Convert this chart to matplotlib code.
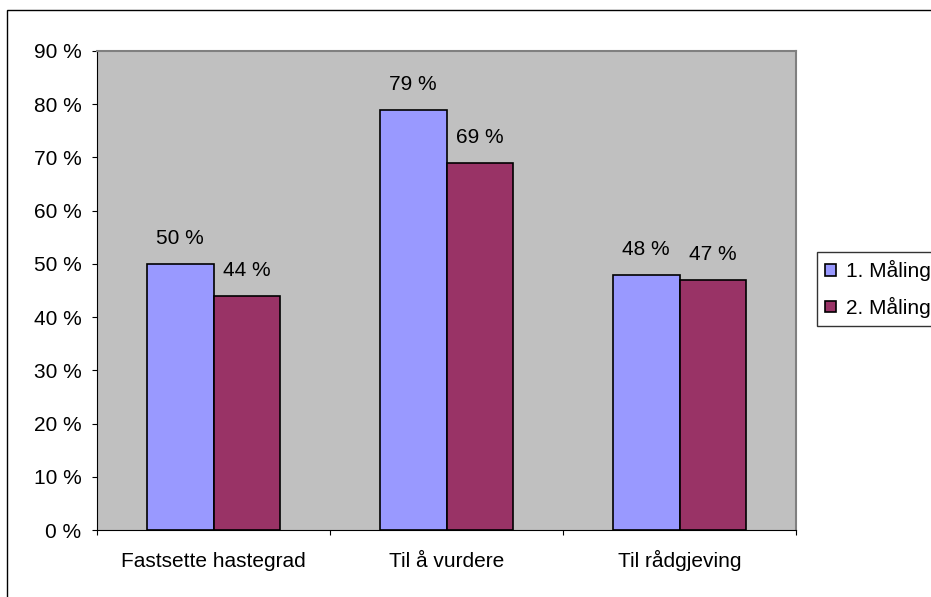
import matplotlib.pyplot as plt
from matplotlib.patches import Rectangle

plt.rcParams['font.family'] = ['Liberation Sans', 'DejaVu Sans']

kategorier = ['Fastsette hastegrad', 'Til å vurdere', 'Til rådgjeving']
maaling1 = [50, 79, 48]
maaling2 = [44, 69, 47]
serier = ['1. Måling', '2. Måling']

fs = 15

fig = plt.figure(figsize=(9.31, 5.97), dpi=100)
fig.patches.append(Rectangle((7 / 931, -0.2), 2, (587 / 597) + 0.2,
                             transform=fig.transFigure, fill=False,
                             edgecolor='black', linewidth=1))

ax = fig.add_axes([97 / 931, 67 / 597, 699 / 931, 479 / 597])
ax.set_facecolor('#c0c0c0')

w = 1 / 3.5
x = range(len(kategorier))
b1 = ax.bar([i - w / 2 for i in x], maaling1, w, color='#9999ff',
            edgecolor='black', linewidth=1.2, label=serier[0])
b2 = ax.bar([i + w / 2 for i in x], maaling2, w, color='#993366',
            edgecolor='black', linewidth=1.2, label=serier[1])

# verdiane over kvar stolpe
for bars, vals in ((b1, maaling1), (b2, maaling2)):
    for b, v in zip(bars, vals):
        ax.annotate(f'{v} %', (b.get_x() + b.get_width() / 2, v),
                    xytext=(0, 14.4), textcoords='offset points',
                    ha='center', va='baseline', fontsize=fs)

ax.set_xlim(-0.5, 2.5)
ax.set_ylim(0, 90)
ax.set_yticks(range(0, 91, 10))
ax.set_yticklabels([f'{v} %' for v in range(0, 91, 10)], fontsize=fs)
ax.set_xticks([-0.5, 0.5, 1.5, 2.5])
ax.set_xticklabels([])
ax.tick_params(axis='x', length=3.6, direction='out')
ax.tick_params(axis='y', length=3.6, direction='out', pad=7.5)

# kategorinamn under aksen, på felles grunnlinje
for i, k in zip(x, kategorier):
    ax.annotate(k, (i, 0), xycoords=('data', 'axes fraction'),
                xytext=(0, -26.6), textcoords='offset points',
                ha='center', va='baseline', fontsize=fs)

for s in ('top', 'right'):
    ax.spines[s].set_color('#808080')
    ax.spines[s].set_linewidth(1.5)
for s in ('left', 'bottom'):
    ax.spines[s].set_color('black')

leg = fig.legend(loc='center left', bbox_to_anchor=(817 / 931, 308 / 597),
                 fontsize=fs, frameon=True, fancybox=False, handlelength=0.5,
                 handleheight=0.5, handletextpad=0.5, borderpad=0.4,
                 labelspacing=0.75, borderaxespad=0)
leg.get_frame().set_edgecolor('black')
leg.get_frame().set_linewidth(1)
for h in leg.legend_handles:
    h.set_linewidth(1.2)

fig.savefig('out.png', dpi=100)
